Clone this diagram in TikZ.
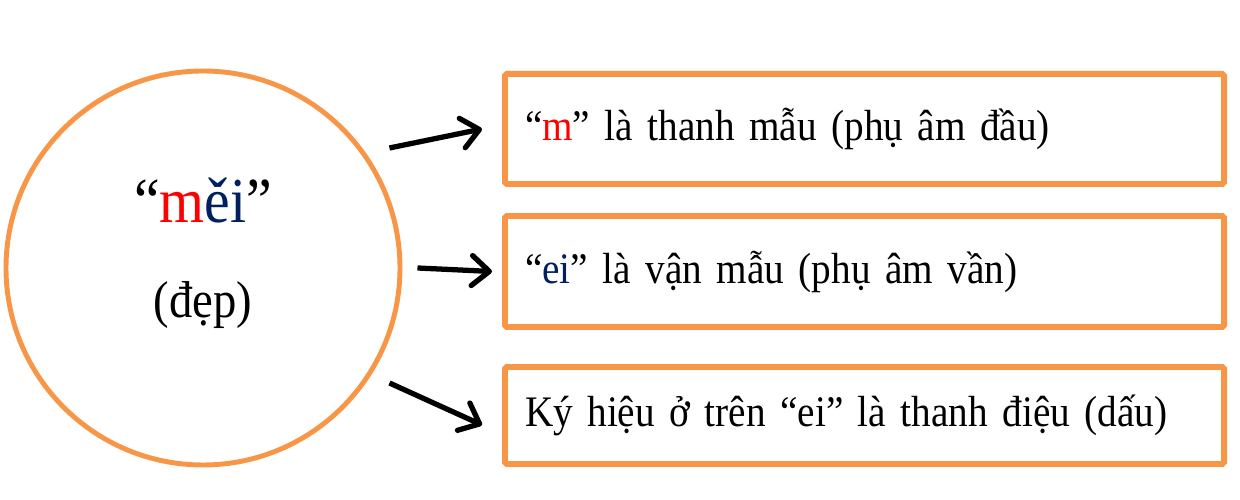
\documentclass[tikz,border=0pt]{standalone}
\usepackage{fontspec}
\setmainfont{Liberation Serif}[FakeStretch=0.9]
\usepackage{xcolor}
\usetikzlibrary{arrows.meta}
\definecolor{orangeline}{RGB}{247,150,70}
\definecolor{navy}{RGB}{0,32,96}

\begin{document}
\begin{tikzpicture}[every node/.style={inner sep=0pt},
    ring/.style={circle, draw=orangeline, line width=2.8pt, minimum size=7.88cm},
    notebox/.style={draw=orangeline, line width=3.4pt, rounded corners=1pt,
      minimum width=14.38cm, text width=13.58cm, align=left, inner xsep=0.4cm,
      font=\fontsize{24.8}{30}\selectfont},
    pointer/.style={line width=3pt, -{Straight Barb[round,length=3.5mm,width=6mm]}}]
        \useasboundingbox (0,0) rectangle (24.8,10);
        % the syllable
        \node[ring] (word) at (4.06,4.64) {};
        \node[font=\fontsize{36.5}{42}\selectfont, anchor=base] (pinyin) at (4.06,5.54) {“\textcolor{red}{m}\textcolor{navy}{ěi}”};
        \node[font=\fontsize{29.5}{34}\selectfont, anchor=base] (meaning) at (4.06,3.64) {(đẹp)};
        % the three parts
        \node[notebox, minimum height=2.2cm] (initial) at (17.29,7.42) {“\textcolor{red}{m}” là thanh mẫu (phụ âm đầu)};
        \node[notebox, minimum height=2.22cm] (final) at (17.29,4.57) {“\textcolor{navy}{ei}” là vận mẫu (phụ âm vần)};
        \node[notebox, minimum height=1.94cm] (tone) at (17.29,1.69) {Ký hiệu ở trên “ei” là thanh điệu (dấu)};
        \draw[pointer] ([shift={(-0.26,2.4)}]word.east) -- ([xshift=-4mm]initial.west);
        \draw[pointer] ([xshift=3mm]word.east) -- ([xshift=-2mm]final.west);
        \draw[pointer] ([shift={(-0.26,-2.3)}]word.east) -- ([shift={(-0.4,-0.19)}]tone.west);
      \end{tikzpicture}
\end{document}
